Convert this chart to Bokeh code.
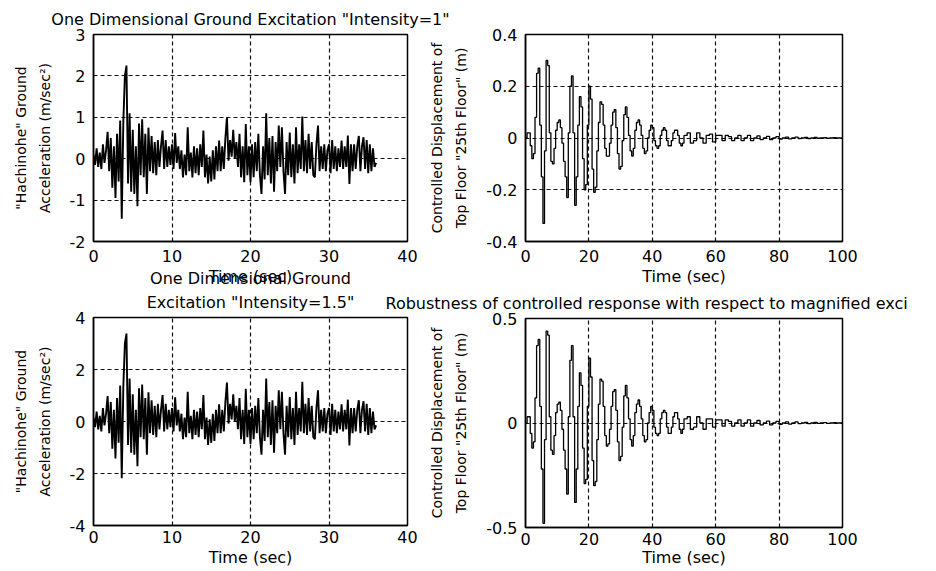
import numpy as np
from bokeh.plotting import figure
from bokeh.models import (Range1d, FixedTicker, Title, GridBox,
                          CustomJSTickFormatter)
from bokeh.embed import file_html
from bokeh.resources import INLINE

# ---------------- data ----------------
acc_dt = 0.2
acc_tmax = 36.0
# Ground acceleration, intensity = 1 (m/sec^2), one value every 0.2 s
acc1 = [
    0.10, -0.15, 0.25, -0.20, 0.15,
    -0.25, 0.35, -0.10, 0.20, 0.65,
    -0.30, 0.50, -0.70, 0.30, -0.95,
    0.60, -0.55, 0.92, -1.45, 0.90,
    2.00, 2.25, -0.60, 1.10, -0.80,
    0.70, -0.85, 0.30, -1.15, 0.85,
    -0.40, 0.95, -0.45, 0.60, -0.85,
    0.75, -0.30, 0.55, -0.35, 0.40,
    -0.40, 0.45, -0.20, 0.30, 0.68,
    -0.25, 0.45, -0.20, 0.30, -0.15,
    0.35, -0.25, 0.62, -0.10, 0.30,
    -0.25, 0.20, -0.45, 0.10, -0.40,
    0.76, -0.30, 0.15, -0.45, 0.30,
    -0.35, 0.25, -0.40, 0.35, -0.20,
    0.68, -0.45, 0.10, -0.60, 0.05,
    -0.55, 0.20, -0.50, 0.30, -0.30,
    0.44, -0.30, 0.30, -0.25, 0.50,
    1.00, -0.05, 0.45, 0.05, 0.70,
    0.00, 0.40, -0.20, 0.60, -0.45,
    0.30, -0.57, 0.84, -0.40, 0.30,
    -0.57, 0.35, -0.45, 0.40, -0.30,
    0.60, -0.40, -0.85, 0.30, -0.50,
    1.10, -0.40, 0.50, -0.60, 0.55,
    -0.80, 0.40, -0.30, 0.80, -0.20,
    0.76, -0.30, -0.85, 0.40, -0.40,
    0.63, -0.45, 0.35, -0.60, 0.76,
    -0.35, 0.35, -0.25, 1.02, -0.30,
    0.45, -0.35, 0.60, -0.25, 0.40,
    -0.40, -0.45, 0.35, 0.80, -0.30,
    0.30, -0.25, 0.35, -0.30, 0.20,
    0.35, -0.35, 0.45, -0.25, 0.30,
    -0.30, 0.25, -0.20, 0.44, -0.25,
    0.30, -0.20, 0.56, -0.61, 0.35,
    -0.30, 0.35, -0.25, 0.30, 0.55,
    -0.30, 0.30, 0.52, -0.25, 0.45,
    -0.35, 0.35, -0.30, 0.25, -0.20,
    -0.10,
]
# Ground acceleration, intensity = 1.5 (m/sec^2)
acc2 = [
    0.15, -0.22, 0.38, -0.30, 0.22,
    -0.38, 0.52, -0.15, 0.30, 0.98,
    -0.45, 0.75, -1.05, 0.45, -1.42,
    0.90, -0.82, 1.38, -2.18, 1.35,
    3.00, 3.38, -0.90, 1.65, -1.20,
    1.05, -1.28, 0.45, -1.72, 1.28,
    -0.60, 1.42, -0.68, 0.90, -1.28,
    1.12, -0.45, 0.82, -0.52, 0.60,
    -0.60, 0.68, -0.30, 0.45, 1.02,
    -0.38, 0.68, -0.30, 0.45, -0.22,
    0.52, -0.38, 0.93, -0.15, 0.45,
    -0.38, 0.30, -0.68, 0.15, -0.60,
    1.14, -0.45, 0.22, -0.68, 0.45,
    -0.52, 0.38, -0.60, 0.52, -0.30,
    1.02, -0.68, 0.15, -0.90, 0.08,
    -0.82, 0.30, -0.75, 0.45, -0.45,
    0.66, -0.45, 0.45, -0.38, 0.75,
    1.50, -0.08, 0.68, 0.08, 1.05,
    0.00, 0.60, -0.30, 0.90, -0.68,
    0.45, -0.86, 1.26, -0.60, 0.45,
    -0.86, 0.52, -0.68, 0.60, -0.45,
    0.90, -0.60, -1.28, 0.45, -0.75,
    1.65, -0.60, 0.75, -0.90, 0.82,
    -1.20, 0.60, -0.45, 1.20, -0.30,
    1.14, -0.45, -1.28, 0.60, -0.60,
    0.94, -0.68, 0.52, -0.90, 1.14,
    -0.52, 0.52, -0.38, 1.53, -0.45,
    0.68, -0.52, 0.90, -0.38, 0.60,
    -0.60, -0.68, 0.52, 1.20, -0.45,
    0.45, -0.38, 0.52, -0.45, 0.30,
    0.52, -0.52, 0.68, -0.38, 0.45,
    -0.45, 0.38, -0.30, 0.66, -0.38,
    0.45, -0.30, 0.84, -0.92, 0.52,
    -0.45, 0.52, -0.38, 0.45, 0.82,
    -0.45, 0.45, 0.78, -0.38, 0.68,
    -0.52, 0.52, -0.45, 0.38, -0.30,
    -0.15,
]
# Controlled top-floor displacement (m): 0.5 s steps to 50 s, then 1 s steps to 100 s
disp1 = [
    0.00, 0.02, 0.02, -0.03, -0.08, -0.06, 0.08, 0.25, 0.27, 0.05,
    -0.15, -0.33, -0.05, 0.30, 0.28, 0.02, -0.09, -0.10, -0.04, 0.03,
    0.06, 0.07, 0.04, -0.02, -0.09, -0.15, -0.23, 0.02, 0.20, 0.24,
    0.02, -0.26, -0.15, 0.05, 0.16, 0.12, -0.08, -0.20, -0.18, 0.05,
    0.20, 0.15, -0.12, -0.21, -0.19, -0.05, 0.06, 0.14, 0.13, 0.05,
    -0.04, -0.07, -0.07, -0.02, 0.05, 0.10, 0.11, 0.04, -0.06, -0.12,
    -0.11, -0.01, 0.09, 0.12, 0.08, 0.01, -0.05, -0.07, -0.04, 0.03,
    0.06, 0.07, 0.05, 0.01, -0.04, -0.06, -0.05, 0.00, 0.03, 0.05,
    0.04, -0.01, -0.03, -0.04, -0.03, 0.01, 0.03, 0.04, 0.03, -0.01,
    -0.03, -0.03, -0.01, 0.02, 0.03, 0.03, 0.01, -0.02, -0.03, -0.02,
    0.01,
    0.02, -0.02, -0.01, 0.02, 0.00, -0.02, 0.01, 0.015, -0.015, 0.01,
    0.01, -0.01, 0.01, 0.005, -0.01, 0.00, 0.01, -0.01, 0.00, 0.01,
    -0.01, 0.00, 0.008, -0.006, 0.00, 0.006, -0.006, 0.00, 0.005, -0.004,
    0.00, 0.003, -0.003, 0.00, 0.003, -0.002, 0.00, 0.002, -0.002, 0.00,
    0.002, -0.001, 0.00, 0.001, -0.001, 0.00, 0.001, 0.00, 0.00, 0.00,
]
disp2 = [
    0.00, 0.03, 0.03, -0.05, -0.12, -0.09, 0.12, 0.37, 0.40, 0.08,
    -0.22, -0.48, -0.08, 0.44, 0.42, 0.03, -0.13, -0.15, -0.06, 0.05,
    0.09, 0.10, 0.06, -0.03, -0.13, -0.22, -0.34, 0.03, 0.30, 0.37,
    0.03, -0.38, -0.22, 0.08, 0.24, 0.18, -0.12, -0.29, -0.27, 0.08,
    0.31, 0.22, -0.18, -0.30, -0.28, -0.08, 0.09, 0.21, 0.20, 0.08,
    -0.06, -0.11, -0.10, -0.03, 0.08, 0.15, 0.16, 0.06, -0.09, -0.18,
    -0.16, -0.02, 0.13, 0.18, 0.12, 0.02, -0.08, -0.11, -0.06, 0.05,
    0.09, 0.11, 0.08, 0.02, -0.06, -0.09, -0.08, 0.00, 0.05, 0.08,
    0.06, -0.02, -0.05, -0.06, -0.05, 0.02, 0.05, 0.06, 0.05, -0.02,
    -0.05, -0.05, -0.02, 0.03, 0.05, 0.05, 0.02, -0.03, -0.05, -0.03,
    0.02,
    0.03, -0.03, -0.02, 0.03, 0.00, -0.03, 0.02, 0.02, -0.02, 0.015,
    0.015, -0.015, 0.015, 0.008, -0.015, 0.00, 0.015, -0.015, 0.00, 0.015,
    -0.015, 0.00, 0.012, -0.009, 0.00, 0.009, -0.009, 0.00, 0.008, -0.006,
    0.00, 0.005, -0.005, 0.00, 0.005, -0.003, 0.00, 0.003, -0.003, 0.00,
    0.003, -0.002, 0.00, 0.002, -0.002, 0.00, 0.002, 0.00, 0.00, 0.00,
]

acc_xticks = [0, 10, 20, 30, 40]
acc1_yticks = [-2, -1, 0, 1, 2, 3]
acc2_yticks = [-4, -2, 0, 2, 4]
disp_xticks = [0, 20, 40, 60, 80, 100]
disp1_yticks = [-0.4, -0.2, 0, 0.2, 0.4]
disp2_yticks = [-0.5, 0, 0.5]

title_tl = 'One Dimensional Ground Excitation "Intensity=1"'
title_bl_1 = "One Dimensional Ground"
title_bl_2 = 'Excitation "Intensity=1.5"'
title_br = "Robustness of controlled response with respect to magnified exci"
acc_ylabel = '"Hachinohe" Ground\nAcceleration (m/sec\u00b2)'
disp_ylabel = 'Controlled Displacement of\nTop Floor "25th Floor" (m)'
xlabel = "Time (sec)"

t_acc = np.round(np.arange(0, acc_tmax + 1e-9, acc_dt), 2)
t_disp = np.concatenate([np.arange(0, 50.0 + 1e-9, 0.5), np.arange(51, 100 + 1e-9, 1.0)])

# ---------------- styling ----------------
W, H = 934, 570
FONT = "DejaVu Sans"
FS = "16px"
YFS = "14px"
TICK_JS = "return String(Math.round(tick*1000)/1000);"


def make_fig(xr, yr, xt, yt, left, right, top, bottom, ylab, tick_standoff, label_standoff):
    p = figure(width=W, height=H, x_range=Range1d(*xr), y_range=Range1d(*yr),
               output_backend="svg", toolbar_location=None, tools="",
               min_border_left=left, min_border_right=right,
               min_border_top=top, min_border_bottom=bottom,
               frame_align=False)
    p.border_fill_color = None
    p.background_fill_color = "white"
    p.outline_line_color = "black"
    p.outline_line_width = 1.5
    p.xaxis.ticker = FixedTicker(ticks=xt)
    p.yaxis.ticker = FixedTicker(ticks=yt)
    p.xaxis.formatter = CustomJSTickFormatter(code=TICK_JS)
    p.yaxis.formatter = CustomJSTickFormatter(code=TICK_JS)
    for ax in (p.xaxis[0], p.yaxis[0]):
        ax.major_tick_in = 0
        ax.major_tick_out = 0
        ax.minor_tick_line_color = None
        ax.axis_line_color = "black"
        ax.axis_line_width = 1.5
        ax.major_label_text_font = FONT
        ax.major_label_text_font_size = FS
        ax.major_label_text_color = "black"
        ax.axis_label_text_font = FONT
        ax.axis_label_text_font_style = "normal"
        ax.axis_label_text_color = "black"
    p.xaxis.major_label_standoff = tick_standoff
    p.xaxis.axis_label = xlabel
    p.xaxis.axis_label_text_font_size = FS
    p.xaxis.axis_label_standoff = label_standoff
    p.yaxis.major_label_standoff = 8
    p.yaxis.axis_label = ylab
    p.yaxis.axis_label_text_font_size = YFS
    p.yaxis.axis_label_text_line_height = 1.5
    p.yaxis.axis_label_standoff = 14
    for g in (p.xgrid[0], p.ygrid[0]):
        g.grid_line_color = "#111111"
        g.grid_line_dash = "4 3"
        g.grid_line_width = 1.2
    return p


def add_title(p, text, standoff, align="center", offset=0):
    p.add_layout(Title(text=text, align=align, offset=offset, standoff=standoff,
                       text_font=FONT, text_font_size=FS, text_font_style="normal",
                       text_color="black"), "above")


# frames (left, right, top, bottom borders) in page pixels
# top-left: ground acceleration, intensity 1
p1 = make_fig((0, 40), (-2, 3), acc_xticks, acc1_yticks, 93, W - 407, 34, H - 241,
              acc_ylabel, 8, 2)
p1.line(t_acc, acc1, line_color="black", line_width=1.9)
add_title(p1, title_tl, 11)

# top-right: controlled displacement, intensity 1
p2 = make_fig((0, 100), (-0.4, 0.4), disp_xticks, disp1_yticks, 525, W - 842, 34, H - 241,
              disp_ylabel, 8, 2)
p2.step(t_disp, disp1, mode="after", line_color="black", line_width=1.3)

# bottom-left: ground acceleration, intensity 1.5
p3 = make_fig((0, 40), (-4, 4), acc_xticks, acc2_yticks, 93, W - 407, 317, H - 525,
              acc_ylabel, 5, 2)
p3.line(t_acc, acc2, line_color="black", line_width=1.9)
add_title(p3, title_bl_2, 12)
add_title(p3, title_bl_1, -6, offset=-15)

# bottom-right: controlled displacement, intensity 1.5
p4 = make_fig((0, 100), (-0.5, 0.5), disp_xticks, disp2_yticks, 525, W - 842, 318, H - 527,
              disp_ylabel, 5, 0)
p4.step(t_disp, disp2, mode="after", line_color="black", line_width=1.3)
add_title(p4, title_br, 12, align="left", offset=-140)

layout = GridBox(children=[(p1, 0, 0), (p2, 0, 0), (p3, 0, 0), (p4, 0, 0)])

with open("out.html", "w") as f:
    f.write(file_html(layout, INLINE))
